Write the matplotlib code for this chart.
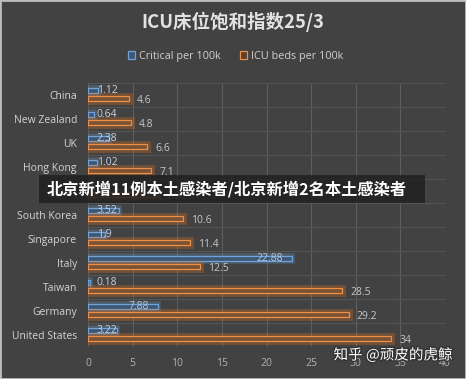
import numpy as np
import matplotlib
matplotlib.use('Agg')
import matplotlib.pyplot as plt
import matplotlib.patheffects as pe
from matplotlib.patches import Rectangle, Patch

countries = ["China", "New Zealand", "UK", "Hong Kong", "Japan", "South Korea",
             "Singapore", "Italy", "Taiwan", "Germany", "United States"]
critical = [1.12, 0.64, 2.38, 1.02, 0.4, 3.52, 1.9, 22.88, 0.18, 7.88, 3.22]
icu_beds = [4.6, 4.8, 6.6, 7.1, 7.9, 10.6, 11.4, 12.5, 28.5, 29.2, 34]
xticks = [0, 5, 10, 15, 20, 25, 30, 35, 40]

title = "ICU床位饱和指数25/3"
legend_labels = ["Critical per 100k", "ICU beds per 100k"]
overlay_text = "北京新增11例本土感染者/北京新增2名本土感染者"
watermark = "知乎 @顽皮的虎鲸"

bg = "#424242"
blue_edge, blue_face = "#6fa3dc", "#3f5872"
orange_edge, orange_face = "#e8904c", "#7c5232"
cjk = ["Noto Sans CJK SC", "DejaVu Sans"]
plt.rcParams['font.family'] = ["Open Sans", "DejaVu Sans"]

fig = plt.figure(figsize=(4.66, 3.79), dpi=100)
fig.patch.set_facecolor(bg)
ax = fig.add_axes([88 / 466, 1 - 347 / 379, (445 - 88) / 466, 264 / 379])
ax.set_facecolor(bg)

y = np.arange(len(countries))
h = 0.21
glow_b = [pe.Stroke(linewidth=4, foreground=blue_edge, alpha=0.25), pe.Normal()]
glow_o = [pe.Stroke(linewidth=5, foreground="#e07020", alpha=0.3), pe.Normal()]
ax.barh(y - 0.17, critical, height=h, color=blue_face, edgecolor=blue_edge,
        lw=0.9, path_effects=glow_b, zorder=3)
ax.barh(y + 0.16, icu_beds, height=h, color=orange_face, edgecolor=orange_edge,
        lw=0.9, path_effects=glow_o, zorder=3)

for yi, v in zip(y, critical):
    if v - 1 > 3.3:
        ax.text(v - 1, yi - 0.17, f"{v:g}", ha="right", va="center",
                color="#b4c8de", fontsize=7.5, zorder=4)
    else:
        ax.text(1.0, yi - 0.17, f"{v:g}", ha="left", va="center",
                color="#c4d2e2", fontsize=7.5, zorder=4)
for yi, v in zip(y, icu_beds):
    ax.text(v + 0.9, yi + 0.22, f"{v:g}", ha="left", va="center",
            color="#c8c8c8", fontsize=7.5, zorder=4)

ax.set_ylim(len(countries) - 0.5, -0.5)
ax.set_xlim(0, 40)
ax.set_yticks(y)
ax.set_yticklabels(countries, color="#d4d4d4", fontsize=7.5)
ax.set_xticks(xticks)
ax.set_xticklabels([str(t) for t in xticks], color="#b0b0b0", fontsize=7.5)
ax.tick_params(length=0, axis="y", pad=8)
ax.tick_params(length=0, axis="x", pad=8)
ax.set_yticks(np.arange(len(countries) + 1) - 0.5, minor=True)
ax.grid(axis="x", color="#5e5e5e", lw=0.8, zorder=0)
ax.grid(axis="y", which="minor", color="#555555", lw=0.8, zorder=0)
ax.tick_params(which="minor", length=0)
for s in ax.spines.values():
    s.set_visible(False)

fig.text(0.5, 1 - 22 / 379, title, ha="center", va="center", color="#e2e2e2",
         fontsize=13.3, fontweight="bold", family=cjk)

handles = [Patch(facecolor=blue_face, edgecolor=blue_edge, lw=0.9),
           Patch(facecolor="#5a4030", edgecolor=orange_edge, lw=0.9)]
fig.legend(handles, legend_labels, loc="center", bbox_to_anchor=(0.505, 1 - 56 / 379),
           ncol=2, frameon=False, fontsize=7.8, labelcolor="#cfcfcf",
           handlelength=0.7, handleheight=0.7, handletextpad=0.3, columnspacing=1.8)

# overlay banner
fig.patches.append(Rectangle((39 / 466, 1 - 203 / 379), (425 - 39) / 466, 28 / 379,
                             transform=fig.transFigure, facecolor="#222222",
                             alpha=0.88, edgecolor="none", zorder=10))
fig.text(47 / 466, 1 - 189 / 379, overlay_text, ha="left", va="center", color="white",
         fontsize=11.7, fontweight="heavy", family=cjk, zorder=11)

fig.text(453 / 466, 1 - 355 / 379, watermark, ha="right", va="center", color="white",
         fontsize=10.5, family=cjk, zorder=11,
         path_effects=[pe.withStroke(linewidth=2, foreground="#333333")])

fig.patches.append(Rectangle((0, 0), 1, 1, transform=fig.transFigure, fill=False,
                             edgecolor="#bdbdbd", lw=2, zorder=12))

fig.savefig("out.png", dpi=100, facecolor=bg)
